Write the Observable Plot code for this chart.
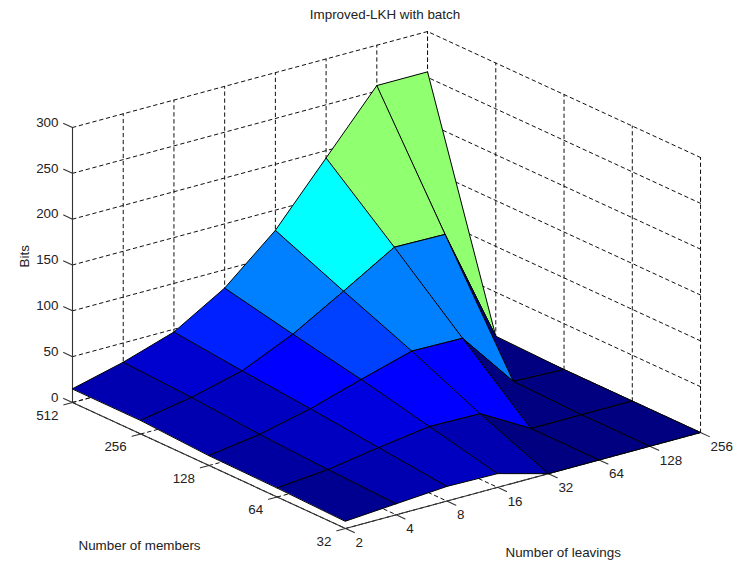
<!DOCTYPE html>
<html><head><meta charset="utf-8">
<style>html,body{margin:0;padding:0;background:#fff}svg{display:block}</style>
<script src="https://cdn.jsdelivr.net/npm/d3@7"></script>
<script src="https://cdn.jsdelivr.net/npm/@observablehq/plot@0.6"></script>
</head><body><div id="chart"></div>
<script>
const title = "Improved-LKH with batch";
const leavings = [2, 4, 8, 16, 32, 64, 128, 256];
const members = [512, 256, 128, 64, 32];
const bitTicks = [0, 50, 100, 150, 200, 250, 300];
const bits512 = [15, 29, 47, 80, 128, 192, 256, 256];
const bits256 = [15, 25, 39, 64, 96, 129, 128, 2];
const bits128 = [11, 19, 32, 49, 65, 64, 2, 0];
const bits64 = [10, 15, 24, 32, 31, 0, 0, 0];
const bits32 = [8, 12, 16, 15, 0, 0, 0, 0];
const bits = [bits512, bits256, bits128, bits64, bits32];

// MATLAB-style axonometric view: leaving index i, member index j, height z
const project = (i, j, z) => ({px: 72 + 50.72 * i + 68.25 * j, py: 402 - 13.71 * i + 31.5 * j - z * 0.9167});
const I = leavings.length - 1, J = members.length - 1, Z = 300;
const pt = (i, j, z, id) => ({...project(i, j, z), id});

// stepped jet-like colormap (8-bit bins)
const colormap = d3.scaleLinear()
  .domain([0, 64, 192, 256])
  .range(["rgb(0,0,128)", "rgb(0,0,255)", "rgb(0,255,255)", "rgb(144,255,112)"])
  .interpolate(d3.interpolateRgb);
const jet = (v) => colormap(Math.floor(v / 8) * 8);

// surface quads, painted back to front; flat colour from one corner of each face
const quads = [];
for (let j = 0; j < J; ++j) for (let i = I - 1; i >= 0; --i) {
  const corners = [[i, j], [i + 1, j], [i + 1, j + 1], [i, j + 1]];
  const fill = jet(bits[j][i + 1]);
  for (const [a, b] of corners) quads.push({...project(a, b, bits[b][a]), id: `${j}-${i}`, fill});
}

// dashed grid on floor and two back walls
const grid = [];
leavings.forEach((_, i) => {
  grid.push(pt(i, 0, 0, `wv${i}`), pt(i, 0, Z, `wv${i}`));
  grid.push(pt(i, 0, 0, `fi${i}`), pt(i, J, 0, `fi${i}`));
});
members.forEach((_, j) => {
  grid.push(pt(I, j, 0, `rv${j}`), pt(I, j, Z, `rv${j}`));
  grid.push(pt(0, j, 0, `fj${j}`), pt(I, j, 0, `fj${j}`));
});
bitTicks.forEach((z) => {
  grid.push(pt(0, 0, z, `h${z}`), pt(I, 0, z, `h${z}`), pt(I, J, z, `h${z}`));
});

// solid axis lines and ticks
const axes = [
  pt(0, 0, 0, "az"), pt(0, 0, Z, "az"),
  pt(0, 0, 0, "am"), pt(0, J, 0, "am"),
  pt(0, J, 0, "al"), pt(I, J, 0, "al")
];
bitTicks.forEach((z) => axes.push(pt(0, 0, z, `tz${z}`), pt(0, -0.13, z, `tz${z}`)));
members.forEach((_, j) => axes.push(pt(0, j, 0, `tm${j}`), pt(-0.17, j, 0, `tm${j}`)));
leavings.forEach((_, i) => axes.push(pt(i, J, 0, `tl${i}`), pt(i, J + 0.13, 0, `tl${i}`)));

const zLabels = bitTicks.map((z) => ({...project(0, 0, z), text: String(z)}));
const mLabels = members.map((m, j) => ({...project(0, j, 0), text: String(m)}));
const lLabels = leavings.map((l, i) => ({...project(i, J, 0), text: String(l)}));

const font = {fontFamily: "'Liberation Sans', Arial, sans-serif", fontSize: 13.4, fill: "#222"};
const X = (d) => d.px, Y = (d) => d.py;

const chart = Plot.plot({
  width: 733, height: 564,
  margin: 0,
  x: {domain: [0, 733], range: [0, 733], axis: null},
  y: {domain: [0, 564], range: [0, 564], axis: null},
  style: {background: "#fff"},
  marks: [
    Plot.line(grid, {x: X, y: Y, z: "id", stroke: "#111", strokeWidth: 1, strokeDasharray: "3.5,3.5"}),
    Plot.line(axes, {x: X, y: Y, z: "id", stroke: "#333", strokeWidth: 1.1}),
    Plot.line(quads, {x: X, y: Y, z: "id", fill: "fill", stroke: "#000", strokeWidth: 1, curve: "linear-closed"}),
    Plot.text(zLabels, {x: X, y: Y, text: "text", textAnchor: "end", dx: -14, dy: -5, ...font}),
    Plot.text(mLabels, {x: X, y: Y, text: "text", textAnchor: "end", dx: -14, dy: 13, ...font}),
    Plot.text(lLabels, {x: X, y: Y, text: "text", textAnchor: "start", dx: 10, dy: 14, ...font}),
    Plot.text([title], {frameAnchor: "top", dx: 18, dy: 9, ...font}),
    Plot.text(["Bits"], {frameAnchor: "left", dx: 24, dy: -15, rotate: -90, ...font}),
    Plot.text(["Number of members"], {frameAnchor: "bottom-left", dx: 78, dy: -15, ...font}),
    Plot.text(["Number of leavings"], {frameAnchor: "bottom-left", dx: 505, dy: -8, ...font})
  ]
});
document.getElementById("chart").append(chart);
</script></body></html>
